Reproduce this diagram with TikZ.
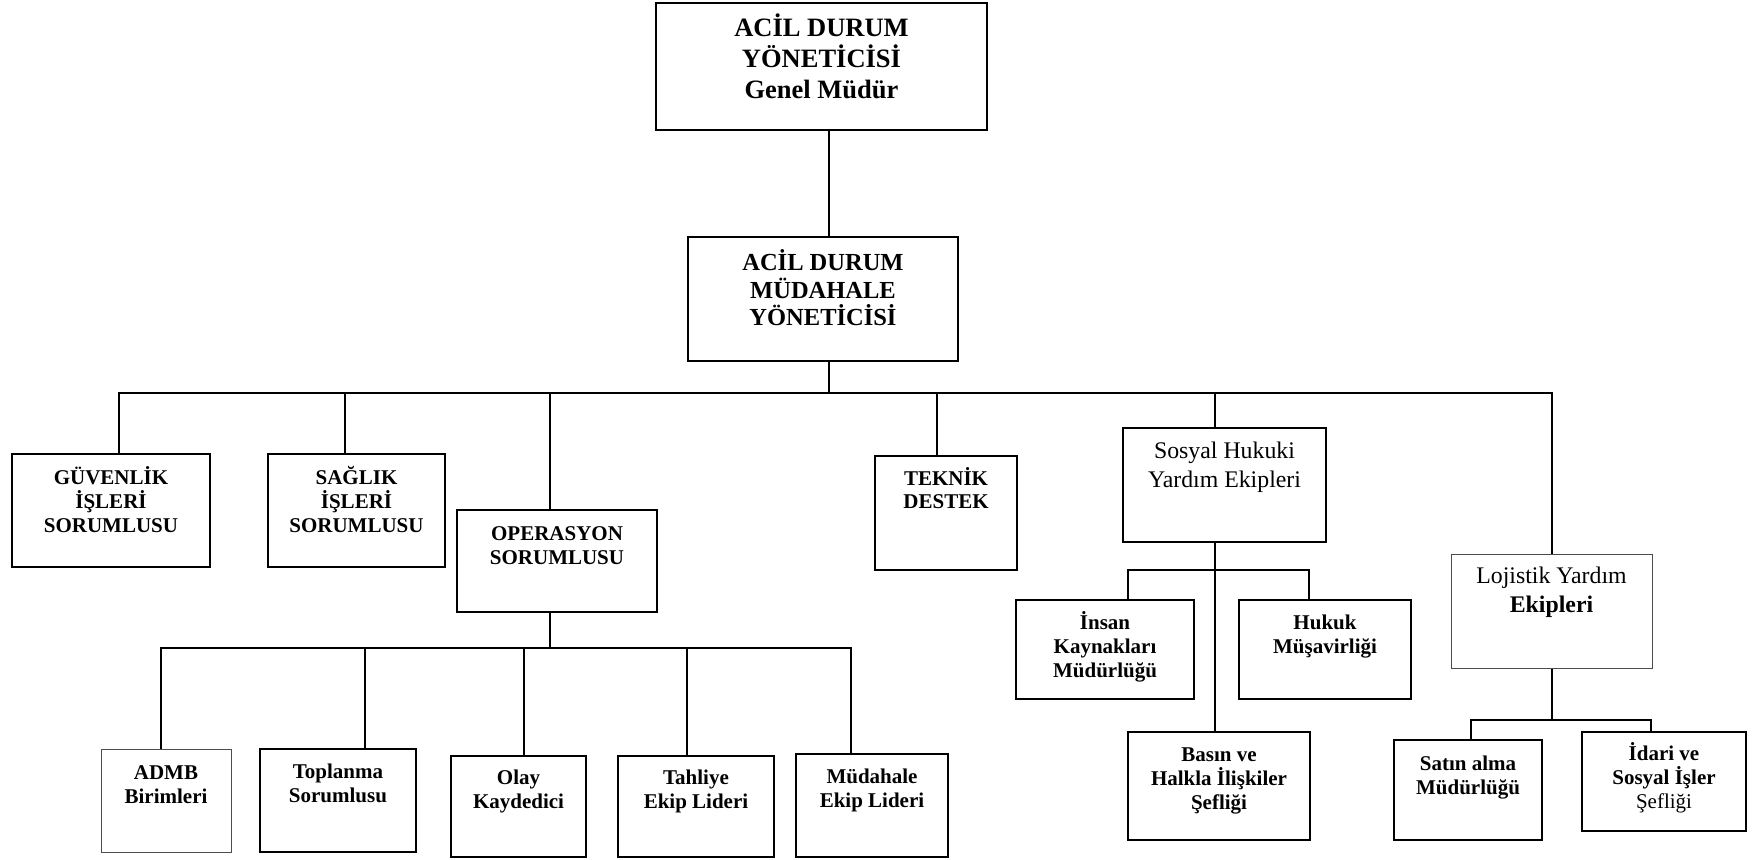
\documentclass[tikz,border=0pt]{standalone}
\usepackage{fontspec}
\setmainfont{Liberation Serif}
\usetikzlibrary{calc}

% box from its corner coordinates: name, x1, y1, x2, y2, style
\newcommand\orgbox[6]{%
  \node[#6, minimum width={(#4-#2)*1pt}, minimum height={(#5-#3)*1pt}]
    (#1) at ({(#2+#4)/2},{(#3+#5)/2}) {};}
% centred lines, first baseline on the node's base anchor
\newcommand\stack[1]{\parbox[t]{330pt}{\centering #1}}

\tikzset{
  box/.style={draw, line width=2.1pt, rectangle, inner sep=0pt},
  thinbox/.style={draw=black!70, line width=1pt, rectangle, inner sep=0pt},
  link/.style={line width=1.7pt},
  lbl/.style={anchor=base, inner sep=0pt, font=\fontsize{21}{23.7}\selectfont\bfseries},
}

\begin{document}
\begin{tikzpicture}[x=1pt, y=-1pt]
\useasboundingbox (0,0) rectangle (1758,859);

% ---- boxes ----
\orgbox{b1}{656}{3}{987}{130}{box}
\orgbox{b2}{688}{237}{958}{361}{box}
\orgbox{gu}{12}{454}{210}{567}{box}
\orgbox{sa}{268}{454}{445}{567}{box}
\orgbox{op}{457}{510}{657}{612}{box}
\orgbox{te}{875}{456}{1017}{570}{box}
\orgbox{so}{1123}{428}{1326}{542}{box}
\orgbox{lo}{1451}{554}{1652}{668}{thinbox}
\orgbox{in}{1016}{600}{1194}{699}{box}
\orgbox{hu}{1239}{600}{1411}{699}{box}
\orgbox{ba}{1128}{732}{1310}{840}{box}
\orgbox{sat}{1394}{740}{1542}{840}{box}
\orgbox{id}{1582}{732}{1746}{831}{box}
\orgbox{ad}{101}{749}{231}{852}{thinbox}
\orgbox{tp}{260}{749}{416}{852}{box}
\orgbox{ol}{451}{756}{586}{857}{box}
\orgbox{ta}{618}{756}{774}{857}{box}
\orgbox{mu}{796}{754}{948}{857}{box}

% ---- labels ----
\node[lbl, font=\fontsize{26.5}{30.7}\selectfont\bfseries] (b1-t) at ($(b1.north)+(0,35)$)
  {\stack{ACİL DURUM\\YÖNETİCİSİ\\Genel Müdür}};
\node[lbl, font=\fontsize{24.5}{27.5}\selectfont\bfseries] (b2-t) at ($(b2.north)+(0,35)$)
  {\stack{ACİL DURUM\\MÜDAHALE\\YÖNETİCİSİ}};
\node[lbl] (gu-t) at ($(gu.north)+(0,32)$) {\stack{GÜVENLİK\\İŞLERİ\\SORUMLUSU}};
\node[lbl] (sa-t) at ($(sa.north)+(0,32)$) {\stack{SAĞLIK\\İŞLERİ\\SORUMLUSU}};
\node[lbl] (op-t) at ($(op.north)+(0,32)$) {\stack{OPERASYON\\SORUMLUSU}};
\node[lbl, font=\fontsize{21}{22.7}\selectfont\bfseries] (te-t) at ($(te.north)+(0,31)$) {\stack{TEKNİK\\DESTEK}};
\node[lbl, font=\fontsize{23.8}{29}\selectfont] (so-t) at ($(so.north)+(0,32)$) {\stack{Sosyal Hukuki\\Yardım Ekipleri}};
\node[lbl, font=\fontsize{23.8}{29}\selectfont] (lo-t) at ($(lo.north)+(0,30)$) {\stack{Lojistik Yardım\\\textbf{Ekipleri}}};
\node[lbl] (in-t) at ($(in.north)+(0,31)$) {\stack{İnsan\\Kaynakları\\Müdürlüğü}};
\node[lbl] (hu-t) at ($(hu.north)+(0,31)$) {\stack{Hukuk\\Müşavirliği}};
\node[lbl] (ba-t) at ($(ba.north)+(0,31)$) {\stack{Basın ve\\Halkla İlişkiler\\Şefliği}};
\node[lbl] (sat-t) at ($(sat.north)+(0,32)$) {\stack{Satın alma\\Müdürlüğü}};
\node[lbl] (id-t) at ($(id.north)+(0,30)$) {\stack{İdari ve\\Sosyal İşler\\\mdseries Şefliği}};
\node[lbl] (ad-t) at ($(ad.north)+(0,31)$) {\stack{ADMB\\Birimleri}};
\node[lbl] (tp-t) at ($(tp.north)+(0,31)$) {\stack{Toplanma\\Sorumlusu}};
\node[lbl] (ol-t) at ($(ol.north)+(0,30)$) {\stack{Olay\\Kaydedici}};
\node[lbl] (ta-t) at ($(ta.north)+(0,30)$) {\stack{Tahliye\\Ekip Lideri}};
\node[lbl] (mu-t) at ($(mu.north)+(0,31)$) {\stack{Müdahale\\Ekip Lideri}};

% ---- junction points ----
\coordinate (j0) at (829,393);
\coordinate (d-gu) at (119,393);
\coordinate (d-sa) at (345,393);
\coordinate (d-op) at (550,393);
\coordinate (d-te) at (937,393);
\coordinate (d-so) at (1215,393);
\coordinate (d-lo) at (1552,393);

\coordinate (j1) at (550,648);
\coordinate (d-ad) at (161,648);
\coordinate (d-tp) at (365,648);
\coordinate (d-ol) at (524,648);
\coordinate (d-ta) at (687,648);
\coordinate (d-mu) at (851,648);

\coordinate (j2) at (1215,570);
\coordinate (d-in) at (1128,570);
\coordinate (d-hu) at (1309,570);

\coordinate (j3) at (1552,720);
\coordinate (d-sat) at (1471,720);
\coordinate (d-id) at (1651,720);

% ---- connectors ----
\draw[link] (b1.south -| j0) -- (b2.north -| j0);
\draw[link] (b2.south -| j0) -- (j0);
\draw[link] (d-gu |- gu.north) -- (d-gu) -- (d-lo) -- (d-lo |- lo.north);
\draw[link] (d-sa) -- (d-sa |- sa.north);
\draw[link] (d-op) -- (d-op |- op.north);
\draw[link] (d-te) -- (d-te |- te.north);
\draw[link] (d-so) -- (d-so |- so.north);

\draw[link] (op.south -| j1) -- (j1);
\draw[link] (d-ad |- ad.north) -- (d-ad) -- (d-mu) -- (d-mu |- mu.north);
\draw[link] (d-tp) -- (d-tp |- tp.north);
\draw[link] (d-ol) -- (d-ol |- ol.north);
\draw[link] (d-ta) -- (d-ta |- ta.north);

\draw[link] (so.south -| j2) -- (ba.north -| j2);
\draw[link] (d-in |- in.north) -- (d-in) -- (d-hu) -- (d-hu |- hu.north);

\draw[link] (lo.south -| j3) -- (j3);
\draw[link] (d-sat |- sat.north) -- (d-sat) -- (d-id) -- (d-id |- id.north);
\end{tikzpicture}
\end{document}
